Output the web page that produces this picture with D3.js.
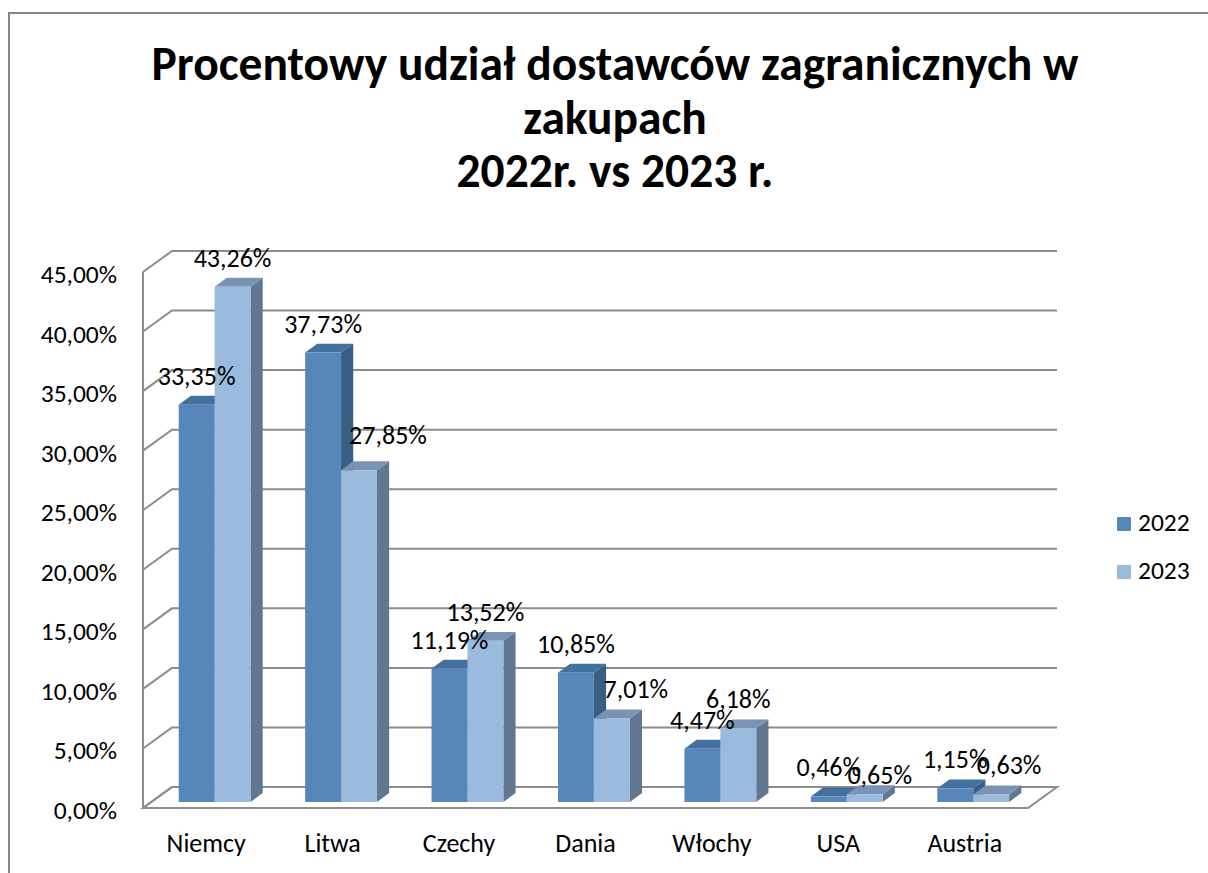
<!DOCTYPE html>
<html lang="pl">
<head>
<meta charset="utf-8">
<script src="https://d3js.org/d3.v7.min.js"></script>
<style>
  body { margin: 0; background: #fff; }
  svg text { font-family: Carlito, Calibri, Lato, sans-serif; fill: #000; }
</style>
</head>
<body>
<script>
// data
const categories = ["Niemcy", "Litwa", "Czechy", "Dania", "Włochy", "USA", "Austria"];
const seriesNames = ["2022", "2023"];
const values2022 = [33.35, 37.73, 11.19, 10.85, 4.47, 0.46, 1.15];
const values2023 = [43.26, 27.85, 13.52, 7.01, 6.18, 0.65, 0.63];
const yTicks = [0, 5, 10, 15, 20, 25, 30, 35, 40, 45];
const titleLines = ["Procentowy udział dostawców zagranicznych w", "zakupach", "2022r. vs 2023 r."];

const seriesValues = {"2022": values2022, "2023": values2023};

// colours: front, top, side of each series
const colours = {
    "2022": {front: "#5787ba", top: "#44709e", side: "#395d83"},
    "2023": {front: "#9abade", top: "#7893b3", side: "#60778f"}
};

// layout of the 3d box
const width = 1208, height = 873;
const plot = {left: 143, right: 1028, bottom: 808, top: 272};
const depth = {dx: 29, dy: -21};
const barD0 = 0.29, barD1 = 0.71;
const gridColour = "#8c8c8c";

// label nudges where Excel moved labels off the bars
const labelNudge = {
    "Litwa-2023": [29, -6],
    "Dania-2023": [24, 0],
    "USA-2023": [15, 10],
    "Austria-2023": [18, 0]
};

const svg = d3.select("body").append("svg")
    .attr("width", width)
    .attr("height", height);

// outer border of the chart area
svg.append("rect")
    .attr("x", 9).attr("y", 13)
    .attr("width", 1400).attr("height", 1000)
    .attr("fill", "none")
    .attr("stroke", "#878787")
    .attr("stroke-width", 2);

// scales
const x = d3.scaleBand()
    .domain(categories)
    .range([plot.left, plot.right])
    .padding(0);

const xSub = d3.scaleBand()
    .domain(seriesNames)
    .range([0, x.bandwidth()])
    .paddingInner(0)
    .paddingOuter(0.76);

const y = d3.scaleLinear()
    .domain([0, 45])
    .range([plot.bottom, plot.top]);

function proj(px, v, d) {
    return [px + depth.dx * d, y(v) + depth.dy * d];
}
function pts(list) {
    return list.map(p => p.join(",")).join(" ");
}

// title
const title = svg.append("g");
titleLines.forEach(function(t, i) {
    title.append("text")
        .attr("x", 615)
        .attr("y", 80 + i * 53.5)
        .attr("text-anchor", "middle")
        .attr("font-weight", "bold")
        .attr("font-size", 47.5)
        .text(t);
});

// walls and gridlines
const grid = svg.append("g")
    .attr("fill", "none")
    .attr("stroke", gridColour)
    .attr("stroke-width", 2);

yTicks.forEach(function(v) {
    const a = proj(plot.left, v, 0), b = proj(plot.left, v, 1), c = proj(plot.right, v, 1);
    grid.append("polyline").attr("points", pts([a, b, c]));
});

// left axis line
grid.append("line")
    .attr("x1", plot.left).attr("y1", y(45))
    .attr("x2", plot.left).attr("y2", y(0));

// floor
grid.append("polygon")
    .attr("points", pts([
        proj(plot.left, 0, 0), proj(plot.right, 0, 0),
        proj(plot.right, 0, 1), proj(plot.left, 0, 1)
    ]));

// y tick labels
svg.append("g")
    .selectAll("text")
    .data(yTicks)
    .join("text")
    .attr("x", 117)
    .attr("y", d => y(d) + 11)
    .attr("text-anchor", "end")
    .attr("font-size", 25.5)
    .text(d => d.toFixed(2).replace(".", ",") + "%");

// category labels
svg.append("g")
    .selectAll("text")
    .data(categories)
    .join("text")
    .attr("x", d => x(d) + x.bandwidth() / 2)
    .attr("y", 852)
    .attr("text-anchor", "middle")
    .attr("font-size", 26)
    .text(d => d);

// bars
const bars = [];
categories.forEach(function(c, i) {
    seriesNames.forEach(function(s) {
        bars.push({cat: c, series: s, value: seriesValues[s][i]});
    });
});

const barG = svg.append("g");
bars.forEach(function(b) {
    const x0 = x(b.cat) + xSub(b.series);
    const x1 = x0 + xSub.bandwidth();
    const col = colours[b.series];
    const g = barG.append("g");
    g.append("polygon")
        .attr("fill", col.side)
        .attr("points", pts([proj(x1, 0, barD0), proj(x1, 0, barD1), proj(x1, b.value, barD1), proj(x1, b.value, barD0)]));
    g.append("polygon")
        .attr("fill", col.top)
        .attr("points", pts([proj(x0, b.value, barD0), proj(x1, b.value, barD0), proj(x1, b.value, barD1), proj(x0, b.value, barD1)]));
    g.append("polygon")
        .attr("fill", col.front)
        .attr("points", pts([proj(x0, 0, barD0), proj(x1, 0, barD0), proj(x1, b.value, barD0), proj(x0, b.value, barD0)]));
});

// data labels
svg.append("g")
    .selectAll("text")
    .data(bars)
    .join("text")
    .attr("x", function(d) {
        const n = labelNudge[d.cat + "-" + d.series] || [0, 0];
        return proj(x(d.cat) + xSub(d.series) + xSub.bandwidth() / 2, d.value, barD0)[0] + n[0];
    })
    .attr("y", function(d) {
        const n = labelNudge[d.cat + "-" + d.series] || [0, 0];
        return proj(0, d.value, barD0)[1] - 20 + n[1];
    })
    .attr("text-anchor", "middle")
    .attr("font-size", 26)
    .text(d => d.value.toFixed(2).replace(".", ",") + "%");

// legend
const legend = svg.append("g");
seriesNames.forEach(function(s, i) {
    legend.append("rect")
        .attr("x", 1117).attr("y", 517 + i * 48)
        .attr("width", 14).attr("height", 14)
        .attr("fill", colours[s].front);
    legend.append("text")
        .attr("x", 1138).attr("y", 531 + i * 48)
        .attr("font-size", 25.5)
        .text(s);
});
</script>
</body>
</html>
